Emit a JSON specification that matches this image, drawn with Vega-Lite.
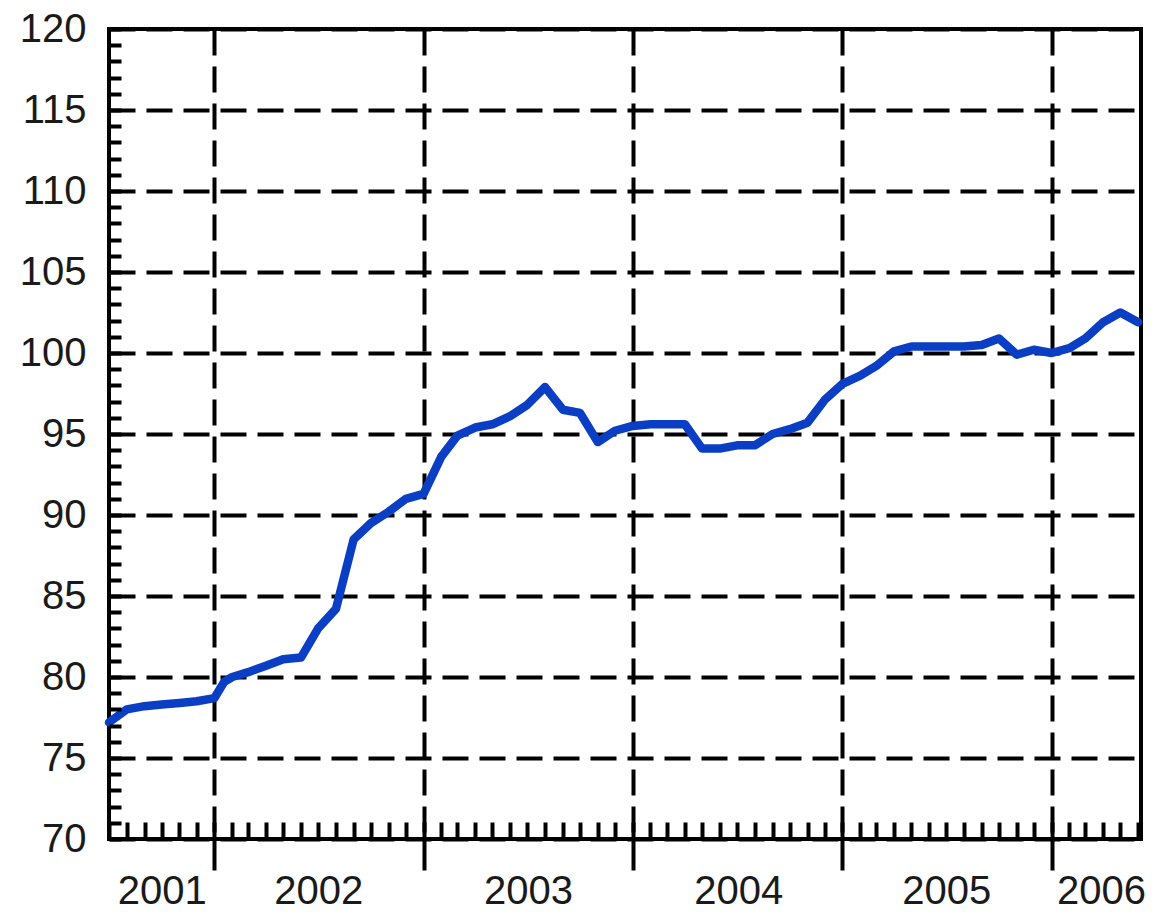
{
  "$schema": "https://vega.github.io/schema/vega-lite/v6.json",
  "width": 1032,
  "height": 810,
  "autosize": {"type": "none"},
  "padding": {"left": 109, "top": 29, "right": 14, "bottom": 75},
  "background": "white",
  "config": {
    "view": {"stroke": "black", "strokeWidth": 4},
    "font": "Liberation Sans",
    "axis": {
      "labelFont": "Liberation Sans",
      "labelFontSize": 40,
      "labelColor": "#1a1a1a",
      "tickColor": "black",
      "tickWidth": 4,
      "gridColor": "black",
      "gridWidth": 4,
      "gridOpacity": 1,
      "gridDash": [26, 11],
      "domain": false,
      "title": null,
      "labelOverlap": false,
      "labelFlush": false,
      "labelBound": false
    }
  },
  "data": {
    "values": [
      {"date": "2001-07-01T00:00:00", "value": 77.2},
      {"date": "2001-08-01T00:00:00", "value": 78.0},
      {"date": "2001-09-01T00:00:00", "value": 78.2},
      {"date": "2001-10-01T00:00:00", "value": 78.3},
      {"date": "2001-11-01T00:00:00", "value": 78.4},
      {"date": "2001-12-01T00:00:00", "value": 78.5},
      {"date": "2002-01-01T00:00:00", "value": 78.7},
      {"date": "2002-01-18T00:00:00", "value": 79.7},
      {"date": "2002-02-01T00:00:00", "value": 80.0},
      {"date": "2002-03-01T00:00:00", "value": 80.3},
      {"date": "2002-04-01T00:00:00", "value": 80.7},
      {"date": "2002-05-01T00:00:00", "value": 81.1},
      {"date": "2002-06-01T00:00:00", "value": 81.2},
      {"date": "2002-07-01T00:00:00", "value": 83.0},
      {"date": "2002-08-01T00:00:00", "value": 84.2},
      {"date": "2002-09-01T00:00:00", "value": 88.5},
      {"date": "2002-10-01T00:00:00", "value": 89.5},
      {"date": "2002-11-01T00:00:00", "value": 90.2},
      {"date": "2002-12-01T00:00:00", "value": 91.0},
      {"date": "2003-01-01T00:00:00", "value": 91.3},
      {"date": "2003-02-01T00:00:00", "value": 93.6},
      {"date": "2003-03-01T00:00:00", "value": 94.9},
      {"date": "2003-04-01T00:00:00", "value": 95.4},
      {"date": "2003-05-01T00:00:00", "value": 95.6},
      {"date": "2003-06-01T00:00:00", "value": 96.1},
      {"date": "2003-07-01T00:00:00", "value": 96.8},
      {"date": "2003-08-01T00:00:00", "value": 97.9},
      {"date": "2003-09-01T00:00:00", "value": 96.5},
      {"date": "2003-10-01T00:00:00", "value": 96.3},
      {"date": "2003-11-01T00:00:00", "value": 94.5},
      {"date": "2003-12-01T00:00:00", "value": 95.2},
      {"date": "2004-01-01T00:00:00", "value": 95.5},
      {"date": "2004-02-01T00:00:00", "value": 95.6},
      {"date": "2004-03-01T00:00:00", "value": 95.6},
      {"date": "2004-04-01T00:00:00", "value": 95.6},
      {"date": "2004-05-01T00:00:00", "value": 94.1},
      {"date": "2004-06-01T00:00:00", "value": 94.1},
      {"date": "2004-07-01T00:00:00", "value": 94.3},
      {"date": "2004-08-01T00:00:00", "value": 94.3},
      {"date": "2004-09-01T00:00:00", "value": 95.0},
      {"date": "2004-10-01T00:00:00", "value": 95.3},
      {"date": "2004-11-01T00:00:00", "value": 95.7},
      {"date": "2004-12-01T00:00:00", "value": 97.1},
      {"date": "2005-01-01T00:00:00", "value": 98.1},
      {"date": "2005-02-01T00:00:00", "value": 98.6},
      {"date": "2005-03-01T00:00:00", "value": 99.2},
      {"date": "2005-04-01T00:00:00", "value": 100.1},
      {"date": "2005-05-01T00:00:00", "value": 100.4},
      {"date": "2005-06-01T00:00:00", "value": 100.4},
      {"date": "2005-07-01T00:00:00", "value": 100.4},
      {"date": "2005-08-01T00:00:00", "value": 100.4},
      {"date": "2005-09-01T00:00:00", "value": 100.5},
      {"date": "2005-10-01T00:00:00", "value": 100.9},
      {"date": "2005-11-01T00:00:00", "value": 99.9},
      {"date": "2005-12-01T00:00:00", "value": 100.2},
      {"date": "2006-01-01T00:00:00", "value": 100.0},
      {"date": "2006-02-01T00:00:00", "value": 100.3},
      {"date": "2006-03-01T00:00:00", "value": 100.9},
      {"date": "2006-04-01T00:00:00", "value": 101.9},
      {"date": "2006-05-01T00:00:00", "value": 102.5},
      {"date": "2006-06-01T00:00:00", "value": 101.9}
    ]
  },
  "layer": [
    {
      "mark": {"type": "line", "opacity": 0},
      "encoding": {
        "x": {
          "field": "date", "type": "temporal",
          "scale": {"domain": [{"year": 2001, "month": 7, "date": 1}, {"year": 2006, "month": 6, "date": 6}]},
          "axis": {"orient": "bottom", "tickCount": {"interval": "year", "step": 1}, "grid": true, "labels": false, "ticks": true, "tickSize": 31, "zindex": 0}
        },
        "y": {
          "field": "value", "type": "quantitative",
          "scale": {"domain": [70, 120], "nice": false, "zero": false},
          "axis": {"orient": "left", "values": [70, 75, 80, 85, 90, 95, 100, 105, 110, 115, 120], "grid": true, "ticks": false, "tickSize": 0, "labelPadding": 23, "zindex": 0}
        }
      }
    },
    {
      "mark": {"type": "line", "opacity": 0},
      "encoding": {
        "x": {
          "field": "date", "type": "temporal",
          "axis": {"orient": "bottom", "tickCount": {"interval": "month", "step": 1}, "grid": false, "labels": false, "tickSize": -17, "zindex": 1}
        },
        "y": {
          "field": "value", "type": "quantitative",
          "axis": {"orient": "left", "values": [70,71,72,73,74,75,76,77,78,79,80,81,82,83,84,85,86,87,88,89,90,91,92,93,94,95,96,97,98,99,100,101,102,103,104,105,106,107,108,109,110,111,112,113,114,115,116,117,118,119,120], "grid": false, "labels": false, "tickSize": -12, "zindex": 1}
        }
      }
    },
    {
      "mark": {"type": "line", "opacity": 0},
      "encoding": {
        "x": {
          "field": "date", "type": "temporal",
          "axis": {
            "orient": "bottom",
            "values": [
              {"year": 2001, "month": 10, "date": 1},
              {"year": 2002, "month": 7, "date": 1},
              {"year": 2003, "month": 7, "date": 2},
              {"year": 2004, "month": 7, "date": 3},
              {"year": 2005, "month": 7, "date": 1},
              {"year": 2006, "month": 3, "date": 28}
            ],
            "format": "%Y", "grid": false, "ticks": false, "tickSize": 0, "labelPadding": 52, "labelBaseline": "middle", "zindex": 1
          }
        },
        "y": {"field": "value", "type": "quantitative", "axis": null}
      }
    },
    {
      "mark": {"type": "line", "color": "#0a3ec4", "strokeWidth": 8.5, "strokeJoin": "round", "strokeCap": "round"},
      "encoding": {
        "x": {"field": "date", "type": "temporal", "axis": null},
        "y": {"field": "value", "type": "quantitative", "axis": null}
      }
    }
  ],
  "resolve": {"axis": {"x": "independent", "y": "independent"}}
}
